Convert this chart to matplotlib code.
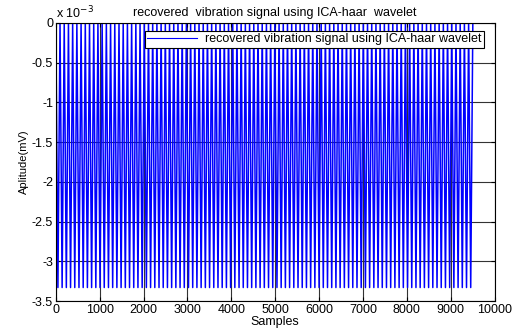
import numpy as np
import matplotlib.pyplot as plt

plt.rcParams['font.family'] = ['Liberation Sans', 'DejaVu Sans']

# signal: about 96 swings between 0 and -3.33e-3
n_samples = 9550
half_period = 48
swing_levels = [0.0, -3.33e-3]

title_text = 'recovered  vibration signal using ICA-haar  wavelet'
legend_text = 'recovered vibration signal using ICA-haar wavelet'
xticks = [0, 1000, 2000, 3000, 4000, 5000, 6000, 7000, 8000, 9000, 10000]
yticks = [0, -0.5, -1, -1.5, -2, -2.5, -3, -3.5]
ytick_labels = ['0', '-0.5', '-1', '-1.5', '-2', '-2.5', '-3', '-3.5']

x = np.arange(0, n_samples + 1, half_period)
y = np.resize(swing_levels, len(x)) * 1e3

fig = plt.figure(figsize=(5.12, 3.33), dpi=100)
ax = fig.add_axes([0.109, 0.096, 0.857, 0.835])
ax.set_axisbelow(True)
ax.plot(x, y, color='#0000ff', lw=1.1, label=legend_text, zorder=3)

ax.set_xlim(0, 10000)
ax.set_ylim(-3.5, 0)
ax.set_xticks(xticks)
ax.set_yticks(yticks)
ax.set_yticklabels(ytick_labels)
ax.tick_params(direction='in', top=True, right=True, labelsize=9, length=3, pad=2)
ax.grid(True, color='#333333', lw=0.8)
for s in ax.spines.values():
    s.set_linewidth(0.8)
    s.set_zorder(4)

ax.set_title(title_text, fontsize=9, pad=5)
ax.set_xlabel('Samples', fontsize=9, labelpad=0)
ax.set_ylabel('Aplitude(mV)', fontsize=8, labelpad=2)
ax.text(0, 1.005, r'x 10$^{-3}$', transform=ax.transAxes, fontsize=9, va='bottom')

leg = ax.legend(loc='upper right', fontsize=9, fancybox=False, framealpha=1,
                edgecolor='black', borderpad=0.2, handlelength=4.0,
                handletextpad=0.6, bbox_to_anchor=(0.99, 0.995))
leg.get_frame().set_linewidth(0.8)
leg.set_zorder(5)
leg.get_lines()[0].set_linewidth(0.8)

fig.savefig('out.png', dpi=100)
